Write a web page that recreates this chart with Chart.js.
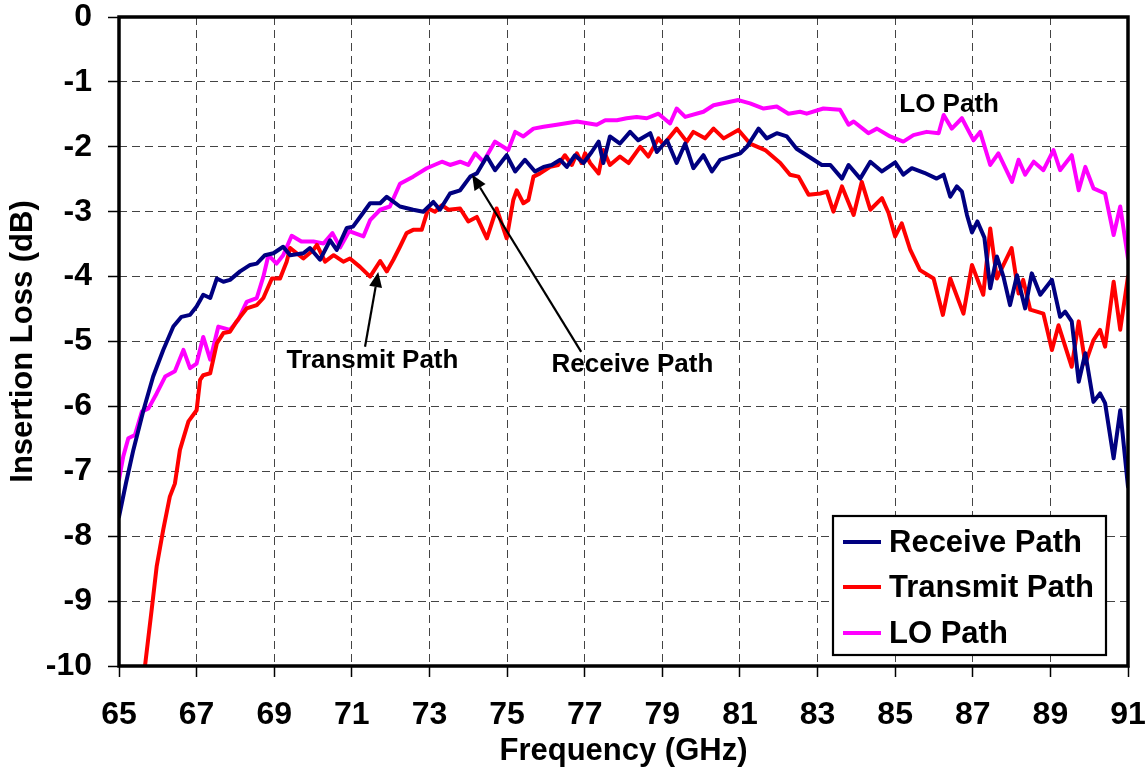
<!DOCTYPE html>
<html>
<head>
<meta charset="utf-8">
<script src="https://cdn.jsdelivr.net/npm/chart.js@4.4.1/dist/chart.umd.min.js"></script>
<style>
  html, body { margin: 0; padding: 0; background: #ffffff; }
  #wrap { width: 1148px; height: 781px; position: relative; }
</style>
</head>
<body>
<div id="wrap"><canvas id="c"></canvas></div>
<script>
// ---- Data ----
const seriesNames = ['Receive Path', 'Transmit Path', 'LO Path'];

const xTickValues = [65, 67, 69, 71, 73, 75, 77, 79, 81, 83, 85, 87, 89, 91];
const yTickValues = [0, -1, -2, -3, -4, -5, -6, -7, -8, -9, -10];

const recvFreq = [65.00,65.18,65.37,65.63,65.88,66.14,66.40,66.61,66.83,67.00,67.17,67.35,67.52,67.69,67.86,68.12,68.38,68.55,68.76,68.98,69.23,69.41,69.75,69.92,70.18,70.44,70.61,70.87,71.03,71.25,71.47,71.73,71.90,72.24,72.58,72.84,73.10,73.27,73.53,73.79,74.05,74.22,74.48,74.69,74.99,75.21,75.46,75.72,75.94,76.15,76.37,76.54,76.75,76.97,77.18,77.36,77.48,77.65,77.91,78.17,78.38,78.69,78.86,79.12,79.37,79.59,79.80,80.06,80.28,80.49,80.75,81.01,81.18,81.48,81.69,81.95,82.21,82.46,82.64,82.90,83.11,83.33,83.63,83.80,84.10,84.36,84.66,85.00,85.21,85.43,85.75,86.07,86.25,86.42,86.59,86.72,86.85,86.98,87.12,87.30,87.45,87.62,87.79,87.96,88.14,88.35,88.52,88.74,89.04,89.25,89.38,89.55,89.73,89.90,90.11,90.28,90.41,90.63,90.80,91.00];
const recvLoss = [-7.70,-7.18,-6.67,-6.06,-5.54,-5.13,-4.77,-4.62,-4.59,-4.46,-4.28,-4.33,-4.03,-4.08,-4.05,-3.92,-3.82,-3.80,-3.67,-3.64,-3.54,-3.67,-3.64,-3.56,-3.74,-3.44,-3.59,-3.25,-3.23,-3.05,-2.87,-2.87,-2.77,-2.92,-2.97,-3.00,-2.85,-2.97,-2.72,-2.67,-2.46,-2.41,-2.15,-2.36,-2.13,-2.38,-2.20,-2.38,-2.31,-2.28,-2.20,-2.31,-2.13,-2.25,-2.08,-1.92,-2.25,-1.84,-1.95,-1.77,-1.90,-1.79,-2.08,-1.90,-2.25,-1.95,-2.33,-2.13,-2.38,-2.20,-2.15,-2.10,-2.00,-1.72,-1.87,-1.79,-1.84,-2.03,-2.10,-2.20,-2.28,-2.28,-2.49,-2.28,-2.49,-2.23,-2.38,-2.24,-2.43,-2.33,-2.40,-2.49,-2.43,-2.77,-2.61,-2.69,-3.05,-3.32,-3.15,-3.40,-4.18,-3.69,-4.00,-4.44,-3.98,-4.49,-3.95,-4.28,-4.05,-4.62,-4.54,-4.69,-5.62,-5.18,-5.93,-5.80,-5.95,-6.80,-6.06,-7.24];

const txFreq = [65.67,65.84,65.97,66.14,66.31,66.44,66.57,66.62,66.79,67.00,67.09,67.17,67.35,67.52,67.69,67.86,68.03,68.29,68.55,68.72,68.94,69.15,69.32,69.41,69.58,69.75,70.01,70.10,70.31,70.53,70.78,70.95,71.21,71.47,71.73,71.90,72.07,72.24,72.41,72.58,72.80,72.97,73.14,73.32,73.49,73.79,74.00,74.22,74.48,74.73,74.99,75.16,75.25,75.42,75.55,75.68,75.85,76.11,76.32,76.49,76.67,76.80,76.92,77.01,77.14,77.36,77.48,77.65,77.91,78.13,78.43,78.64,78.90,79.03,79.37,79.63,79.80,80.10,80.32,80.58,80.96,81.26,81.65,82.04,82.29,82.51,82.77,83.07,83.24,83.41,83.63,83.93,84.14,84.36,84.66,84.83,85.00,85.17,85.39,85.64,85.99,86.23,86.42,86.76,86.98,87.27,87.45,87.62,88.00,88.18,88.30,88.48,88.82,89.04,89.21,89.55,89.73,89.90,90.11,90.28,90.41,90.63,90.80,91.00];
const txLoss = [-10.00,-9.14,-8.47,-7.90,-7.39,-7.19,-6.67,-6.57,-6.23,-6.06,-5.59,-5.52,-5.49,-5.03,-4.87,-4.85,-4.69,-4.49,-4.44,-4.33,-4.03,-4.03,-3.77,-3.56,-3.64,-3.72,-3.59,-3.51,-3.77,-3.67,-3.77,-3.72,-3.85,-4.00,-3.76,-3.92,-3.74,-3.54,-3.33,-3.28,-3.28,-2.95,-3.00,-2.90,-2.97,-2.95,-3.15,-3.08,-3.41,-2.95,-3.41,-2.82,-2.67,-2.87,-2.82,-2.46,-2.41,-2.31,-2.28,-2.13,-2.28,-2.10,-2.25,-2.10,-2.25,-2.41,-2.05,-2.28,-2.15,-2.25,-2.00,-2.15,-1.87,-1.97,-1.72,-1.92,-1.77,-1.87,-1.72,-1.87,-1.74,-1.95,-2.05,-2.25,-2.43,-2.46,-2.74,-2.72,-2.69,-3.00,-2.61,-3.05,-2.54,-2.97,-2.79,-3.02,-3.38,-3.18,-3.59,-3.90,-4.03,-4.59,-4.03,-4.57,-3.82,-4.28,-3.26,-4.03,-3.56,-4.26,-4.05,-4.51,-4.57,-5.13,-4.75,-5.39,-4.69,-5.34,-4.98,-4.82,-5.08,-4.08,-4.82,-4.00];

const loFreq = [65.00,65.11,65.24,65.41,65.59,65.76,65.97,66.19,66.44,66.66,66.83,67.00,67.17,67.35,67.56,67.86,68.07,68.29,68.55,68.72,68.85,69.06,69.23,69.45,69.70,70.01,70.27,70.50,70.70,70.93,71.30,71.47,71.73,71.98,72.24,72.58,72.93,73.32,73.53,73.79,74.00,74.18,74.39,74.69,75.03,75.21,75.42,75.68,75.94,76.28,76.80,77.31,77.53,77.83,78.08,78.34,78.60,78.90,79.20,79.37,79.59,80.06,80.32,80.96,81.26,81.61,81.95,82.25,82.55,82.72,83.15,83.58,83.80,83.93,84.31,84.53,84.87,85.21,85.47,85.81,86.12,86.25,86.46,86.72,87.02,87.19,87.45,87.66,88.01,88.18,88.35,88.57,88.82,89.08,89.25,89.55,89.73,89.90,90.11,90.41,90.63,90.80,91.00];
const loLoss = [-7.13,-6.77,-6.49,-6.44,-6.08,-6.03,-5.80,-5.54,-5.46,-5.13,-5.41,-5.34,-4.93,-5.28,-4.77,-4.82,-4.67,-4.39,-4.33,-4.00,-3.67,-3.80,-3.67,-3.37,-3.46,-3.46,-3.49,-3.33,-3.55,-3.30,-3.38,-3.13,-2.97,-2.92,-2.57,-2.46,-2.33,-2.23,-2.28,-2.23,-2.28,-2.10,-2.23,-1.92,-2.05,-1.77,-1.84,-1.72,-1.69,-1.66,-1.61,-1.66,-1.59,-1.59,-1.56,-1.54,-1.56,-1.49,-1.64,-1.41,-1.54,-1.46,-1.36,-1.28,-1.33,-1.41,-1.38,-1.49,-1.46,-1.49,-1.41,-1.43,-1.66,-1.61,-1.79,-1.72,-1.84,-1.92,-1.82,-1.77,-1.79,-1.51,-1.72,-1.56,-1.90,-1.77,-2.28,-2.10,-2.54,-2.20,-2.43,-2.23,-2.36,-2.05,-2.36,-2.13,-2.67,-2.31,-2.64,-2.72,-3.36,-2.92,-3.72];

// ---- Styling ----
const FONT = '"Liberation Sans", Arial, Helvetica, sans-serif';
const colors = ['#000080', '#ff0000', '#ff00ff'];

function toPoints(xs, ys) { return xs.map((x, i) => ({ x: x, y: ys[i] })); }

// Annotations in data units (text labels and arrows)
const annotationTexts = [
  { text: 'LO Path', x: 86.39, y: -1.36 },
  { text: 'Transmit Path', x: 71.53, y: -5.30 },
  { text: 'Receive Path', x: 78.23, y: -5.36 }
];
const annotationArrows = [
  { from: [71.34, -5.08], to: [71.68, -3.93] },
  { from: [76.91, -5.16], to: [74.10, -2.43] }
];

const framePlugin = {
  id: 'frame',
  afterDatasetsDraw(chart) {
    const { ctx, chartArea: a } = chart;
    ctx.save();
    ctx.strokeStyle = '#000';
    ctx.lineWidth = 3.5;
    ctx.strokeRect(a.left, a.top, a.right - a.left, a.bottom - a.top);
    ctx.restore();
  }
};

const annotationPlugin = {
  id: 'notes',
  afterDraw(chart) {
    const { ctx } = chart;
    const xs = chart.scales.x, ys = chart.scales.y;
    ctx.save();
    ctx.fillStyle = '#000';
    ctx.strokeStyle = '#000';
    ctx.font = 'bold 26px ' + FONT;
    ctx.textAlign = 'center';
    ctx.textBaseline = 'middle';
    annotationTexts.forEach(t => {
      ctx.fillText(t.text, xs.getPixelForValue(t.x), ys.getPixelForValue(t.y));
    });
    annotationArrows.forEach(a => {
      const x1 = xs.getPixelForValue(a.from[0]), y1 = ys.getPixelForValue(a.from[1]);
      const x2 = xs.getPixelForValue(a.to[0]), y2 = ys.getPixelForValue(a.to[1]);
      const ang = Math.atan2(y2 - y1, x2 - x1);
      const headLen = 15, headW = 6.5;
      const bx = x2 - headLen * Math.cos(ang), by = y2 - headLen * Math.sin(ang);
      ctx.lineWidth = 2.2;
      ctx.beginPath();
      ctx.moveTo(x1, y1);
      ctx.lineTo(bx, by);
      ctx.stroke();
      ctx.beginPath();
      ctx.moveTo(x2, y2);
      ctx.lineTo(bx + headW * Math.sin(ang), by - headW * Math.cos(ang));
      ctx.lineTo(bx - headW * Math.sin(ang), by + headW * Math.cos(ang));
      ctx.closePath();
      ctx.fill();
    });
    ctx.restore();
  }
};

const legendPlugin = {
  id: 'boxLegend',
  afterDraw(chart) {
    const { ctx, chartArea: a } = chart;
    const w = 273, h = 139;
    const right = a.right - 22, bottom = a.bottom - 11;
    const left = right - w, top = bottom - h;
    ctx.save();
    ctx.fillStyle = '#fff';
    ctx.fillRect(left, top, w, h);
    ctx.strokeStyle = '#000';
    ctx.lineWidth = 2.2;
    ctx.strokeRect(left, top, w, h);
    ctx.font = 'bold 31px ' + FONT;
    ctx.textAlign = 'left';
    ctx.textBaseline = 'middle';
    const rows = [26, 71, 117];
    chart.data.datasets.forEach((ds, i) => {
      const y = top + rows[i];
      ctx.strokeStyle = ds.borderColor;
      ctx.lineWidth = 4;
      ctx.beginPath();
      ctx.moveTo(left + 10, y);
      ctx.lineTo(left + 48, y);
      ctx.stroke();
      ctx.fillStyle = '#000';
      ctx.fillText(ds.label, left + 56, y + 1);
    });
    ctx.restore();
  }
};

const datasets = [
  { label: seriesNames[0], data: toPoints(recvFreq, recvLoss), borderColor: colors[0] },
  { label: seriesNames[1], data: toPoints(txFreq, txLoss), borderColor: colors[1] },
  { label: seriesNames[2], data: toPoints(loFreq, loLoss), borderColor: colors[2] }
].map(d => Object.assign(d, {
  borderWidth: 4, pointRadius: 0, pointHoverRadius: 0, tension: 0, fill: false,
  borderJoinStyle: 'round', borderCapStyle: 'round', backgroundColor: d.borderColor
}));

new Chart(document.getElementById('c'), {
  type: 'line',
  data: { datasets: datasets },
  options: {
    responsive: true,
    maintainAspectRatio: false,
    animation: false,
    devicePixelRatio: 1,
    layout: { padding: { left: 0, top: 17, right: 20, bottom: 0 } },
    plugins: { legend: { display: false }, title: { display: false }, tooltip: { enabled: false } },
    scales: {
      x: {
        type: 'linear',
        min: 65, max: 91,
        afterBuildTicks: s => { s.ticks = xTickValues.map(v => ({ value: v })); },
        afterFit: s => { s.height = 115; s.paddingLeft = 0; s.paddingRight = 0; },
        ticks: {
          autoSkip: false, maxRotation: 0, minRotation: 0, padding: 19,
          color: '#000', font: { family: FONT, size: 32, weight: 'bold' },
          callback: v => String(v)
        },
        grid: {
          color: '#444', lineWidth: 1, tickLength: 11, tickColor: '#000', tickWidth: 1.5,
          tickBorderDash: []
        },
        border: { display: false, dash: [8, 5] },
        title: {
          display: true, text: 'Frequency (GHz)', color: '#000',
          font: { family: FONT, size: 31, weight: 'bold' }, padding: { top: 0, bottom: 11 }
        }
      },
      y: {
        type: 'linear',
        min: -10, max: 0,
        afterBuildTicks: s => { s.ticks = yTickValues.map(v => ({ value: v })); },
        afterFit: s => { s.width = 119; s.paddingTop = 0; s.paddingBottom = 0; },
        ticks: {
          autoSkip: false, padding: 16,
          color: '#000', font: { family: FONT, size: 32, weight: 'bold' },
          callback: v => String(v)
        },
        grid: {
          color: '#444', lineWidth: 1, tickLength: 11, tickColor: '#000', tickWidth: 1.5,
          tickBorderDash: []
        },
        border: { display: false, dash: [8, 5] },
        title: {
          display: true, text: 'Insertion Loss (dB)', color: '#000',
          font: { family: FONT, size: 31, weight: 'bold' }, padding: { top: 5, bottom: 0 }
        }
      }
    }
  },
  plugins: [framePlugin, annotationPlugin, legendPlugin]
});
</script>
</body>
</html>
